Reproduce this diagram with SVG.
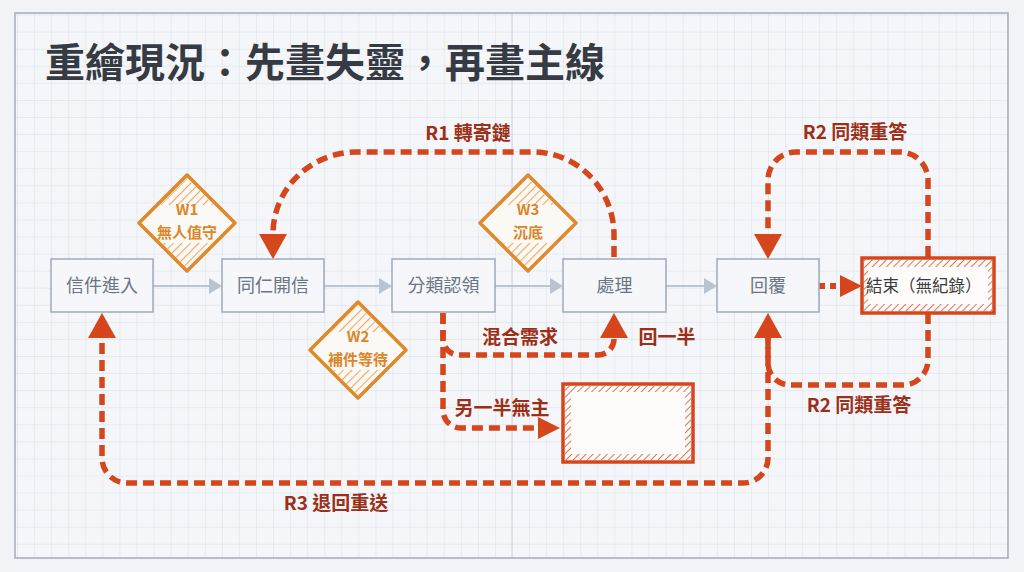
<svg xmlns="http://www.w3.org/2000/svg" width="1024" height="572" viewBox="0 0 1024 572">
<style>
.node rect{fill:#f5f7fa;stroke:#9eabba;stroke-width:1.5}
.node text{font-family:"Noto Sans CJK TC","Noto Sans",sans-serif;font-size:18px;fill:#6b7583;text-anchor:middle}
.warn polygon.d{fill:#fbf9f6;stroke:#e0892c;stroke-width:3.5;stroke-linejoin:round}
.warn text{font-family:"Noto Sans CJK TC","Noto Sans",sans-serif;font-size:15px;font-weight:700;fill:#dc8529;text-anchor:middle}
.flow{fill:none;stroke:#aab6c4;stroke-width:1.5}
.red{fill:none;stroke:#d5461c;stroke-width:5.5;stroke-dasharray:11 6}
.lbl{font-family:"Noto Sans CJK TC","Noto Sans",sans-serif;font-size:19px;font-weight:700;fill:#9c2f18;text-anchor:middle}
.bad rect.b{fill:#fdfcfb;stroke:#d5461c;stroke-width:3.5}
</style>
<defs>
<pattern id="grid" patternUnits="userSpaceOnUse" x="0" y="14.6" width="17.067" height="17.07">
<path d="M0,0 V17.07 M0,0 H17.067" fill="none" stroke="#d8dee6" stroke-width="1"/>
</pattern>
<pattern id="hatchO" patternUnits="userSpaceOnUse" width="6" height="6" patternTransform="rotate(45)">
<line x1="0" y1="0" x2="0" y2="6" stroke="#efa862" stroke-width="2.2"/>
</pattern>
<pattern id="hatchR" patternUnits="userSpaceOnUse" width="5" height="5" patternTransform="rotate(45)">
<line x1="0" y1="0" x2="0" y2="5" stroke="#d5461c" stroke-width="1.5"/>
</pattern>
<marker id="ar" markerUnits="userSpaceOnUse" markerWidth="26" markerHeight="30" viewBox="0 -15 26 30" refX="0" refY="0" orient="auto">
<path d="M0,-14 L25,0 L0,14 Z" fill="#d5461c"/>
</marker>
<marker id="ars" markerUnits="userSpaceOnUse" markerWidth="24" markerHeight="24" viewBox="0 -12 24 24" refX="0" refY="0" orient="auto">
<path d="M0,-11 L22,0 L0,11 Z" fill="#d5461c"/>
</marker>
<marker id="ag" markerUnits="userSpaceOnUse" markerWidth="14" markerHeight="18" viewBox="0 -9 14 18" refX="0" refY="0" orient="auto">
<path d="M0,-8 L13,0 L0,8 Z" fill="#b9c4d0"/>
</marker>
</defs>
<rect x="0" y="0" width="1024" height="572" fill="#f1f3f7"/>
<rect x="15" y="13" width="993" height="545" fill="#f4f6f9"/>
<rect x="15" y="13" width="993" height="545" fill="url(#grid)"/>
<line x1="512" y1="13" x2="512" y2="558" stroke="#d0d7df" stroke-width="1"/>
<rect x="15" y="13" width="993" height="545" fill="none" stroke="#a5adb8" stroke-width="1.5"/>
<text x="45" y="77" font-family="'Noto Sans CJK TC','Noto Sans',sans-serif" font-size="40" font-weight="700" fill="#363b43">重繪現況：先畫失靈，再畫主線</text>

<g id="connectors">
<path class="flow" d="M153,286 H209" marker-end="url(#ag)"/>
<path class="flow" d="M324,286 H379" marker-end="url(#ag)"/>
<path class="flow" d="M495,286 H550" marker-end="url(#ag)"/>
<path class="flow" d="M666,286 H704" marker-end="url(#ag)"/>
<path class="red" d="M614,257 L614,235 A81,83 0 0 0 533,152 L357,152 A84,82 0 0 0 273,234" marker-end="url(#ar)"/>
<path class="red" d="M928,257 L928,180 A28,28 0 0 0 900,152 L796,152 A28,28 0 0 0 768,180 L768,234" marker-end="url(#ar)"/>
<path class="red" d="M928,313 L928,360 A25,25 0 0 1 903,385 L790,385 A22,22 0 0 1 768,363 L768,338" marker-end="url(#ar)"/>
<path class="red" d="M768,338 L768,458 A25,25 0 0 1 743,483 L127,483 A25,25 0 0 1 102,458 L102,338" marker-end="url(#ar)"/>
<path class="red" d="M443,313 L443,339 A16,16 0 0 0 459,355 L598,355 A16,16 0 0 0 614,339 L614,338" marker-end="url(#ar)"/>
<path class="red" d="M443,313 L443,410 A18,18 0 0 0 461,428 L538,428" marker-end="url(#ars)"/>
<path d="M819,286 H840" fill="none" stroke="#d5461c" stroke-width="6" stroke-dasharray="6 5" marker-end="url(#ars)"/>
<text class="lbl" x="468" y="140">R1 轉寄鏈</text>
<text class="lbl" x="855" y="139">R2 同類重答</text>
<text class="lbl" x="859" y="412">R2 同類重答</text>
<text class="lbl" x="336" y="510">R3 退回重送</text>
<text class="lbl" x="520" y="344">混合需求</text>
<text class="lbl" x="667" y="344">回一半</text>
<text class="lbl" x="502" y="415">另一半無主</text>
</g>

<g id="n1" class="node"><rect x="51" y="259" width="102" height="53"/><text x="102" y="292">信件進入</text></g>
<g id="n2" class="node"><rect x="222" y="259" width="102" height="53"/><text x="273" y="292">同仁開信</text></g>
<g id="n3" class="node"><rect x="392" y="259" width="103" height="53"/><text x="443.5" y="292">分類認領</text></g>
<g id="n4" class="node"><rect x="563" y="259" width="103" height="53"/><text x="614.5" y="292">處理</text></g>
<g id="n5" class="node"><rect x="717" y="259" width="102" height="53"/><text x="768" y="292">回覆</text></g>

<g id="end" class="bad">
<rect class="b" x="862" y="258" width="132" height="55"/>
<path d="M864,260 H992 V311 H864 Z M868,267 V304 H988 V267 Z" fill="url(#hatchR)" fill-rule="evenodd"/>
<rect x="868" y="267" width="120" height="37" fill="#fdfcfb"/>
<text x="866" y="292" font-family="'Noto Sans CJK TC','Noto Sans',sans-serif" font-size="16.5" fill="#3a3a3a">結束（無紀錄）</text>
</g>

<g id="orphan" class="bad">
<rect class="b" x="563" y="384" width="130" height="78"/>
<path d="M565,386 H691 V460 H565 Z M571,392 V454 H685 V392 Z" fill="url(#hatchR)" fill-rule="evenodd"/>
</g>

<g id="w1" class="warn">
<polygon class="d" points="187,175 235,223 187,271 139,223"/>
<polygon points="187,178 214,205 160,205" fill="url(#hatchO)"/>
<polygon points="160,243 214,243 187,268" fill="url(#hatchO)"/>
<text x="187" y="215">W1</text><text x="187" y="238">無人值守</text>
</g>
<g id="w2" class="warn">
<polygon class="d" points="358,302 406,350 358,398 310,350"/>
<polygon points="358,305 385,332 331,332" fill="url(#hatchO)"/>
<polygon points="331,370 385,370 358,395" fill="url(#hatchO)"/>
<text x="358" y="342">W2</text><text x="358" y="365">補件等待</text>
</g>
<g id="w3" class="warn">
<polygon class="d" points="528,175 576,223 528,271 480,223"/>
<polygon points="528,178 555,205 501,205" fill="url(#hatchO)"/>
<polygon points="501,243 555,243 528,268" fill="url(#hatchO)"/>
<text x="528" y="215">W3</text><text x="528" y="238">沉底</text>
</g>
</svg>
